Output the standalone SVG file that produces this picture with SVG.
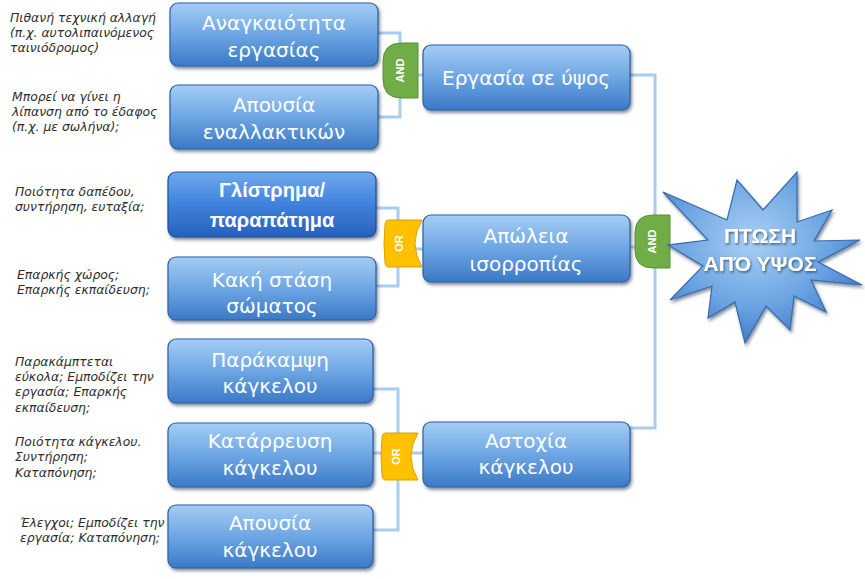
<svg xmlns="http://www.w3.org/2000/svg" width="865" height="579" viewBox="0 0 865 579">
<defs>
  <linearGradient id="boxG" x1="0" y1="0" x2="0" y2="1">
    <stop offset="0" stop-color="#a4cdf3"/>
    <stop offset="0.5" stop-color="#6ea6e3"/>
    <stop offset="1" stop-color="#3b79c6"/>
  </linearGradient>
  <linearGradient id="boxG2" x1="0" y1="0" x2="0" y2="1">
    <stop offset="0" stop-color="#6fa9ec"/>
    <stop offset="0.5" stop-color="#3f82dc"/>
    <stop offset="1" stop-color="#2660be"/>
  </linearGradient>
  <radialGradient id="starG" cx="0.45" cy="0.4" r="0.65">
    <stop offset="0" stop-color="#a9d0f4"/>
    <stop offset="0.6" stop-color="#6aa3e2"/>
    <stop offset="1" stop-color="#3a74c0"/>
  </radialGradient>
  <filter id="sh" x="-10%" y="-10%" width="125%" height="135%">
    <feDropShadow dx="1.5" dy="2.5" stdDeviation="1.8" flood-color="#1d3555" flood-opacity="0.55"/>
  </filter>
  <filter id="tsh" x="-10%" y="-20%" width="120%" height="150%">
    <feDropShadow dx="1" dy="1.5" stdDeviation="1" flood-color="#1a3050" flood-opacity="0.7"/>
  </filter>
</defs>
<style>
  .box { fill: url(#boxG); stroke: #2f5f9d; stroke-width: 1.2; filter: url(#sh); }
  .box2 { fill: url(#boxG2); stroke: #1f4f92; stroke-width: 1.2; filter: url(#sh); }
  .bt { font-family: "DejaVu Sans", "Liberation Sans", sans-serif; font-size: 20px; fill: #ffffff; text-anchor: middle; }
  .btb { font-family: "Liberation Sans", "DejaVu Sans", sans-serif; font-size: 20px; font-weight: bold; fill: #ffffff; text-anchor: middle; }
  .note { font-family: "DejaVu Sans", "Liberation Sans", sans-serif; font-size: 12.4px; font-style: italic; fill: #2e2e2e; }
  .and { fill: #70ad47; stroke: #5a8f36; stroke-width: 1; }
  .or { fill: #ffc000; stroke: #d9a200; stroke-width: 1; }
  .gt { font-family: "Liberation Sans", "DejaVu Sans", sans-serif; font-size: 11px; font-weight: bold; fill: #ffffff; text-anchor: middle; }
  .conn { fill: none; stroke: #a8cdf0; stroke-width: 3; }
  .star { fill: url(#starG); stroke: #3a6aa8; stroke-width: 1.2; filter: url(#sh); }
  .st { font-family: "Liberation Sans", "DejaVu Sans", sans-serif; font-size: 21px; font-weight: bold; fill: #ffffff; text-anchor: middle; filter: url(#tsh); }
</style>

<g id="connectors">
  <path class="conn" d="M378,33 H400 V117 H378"/>
  <path class="conn" d="M400,75 H423"/>
  <path class="conn" d="M630,75 H655 V428 H630"/>
  <path class="conn" d="M630,247 H655"/>
  <path class="conn" d="M376,208 H398 V286 H376"/>
  <path class="conn" d="M398,249 H423"/>
  <path class="conn" d="M373,389 H398 V530 H373"/>
  <path class="conn" d="M373,453 H423"/>
</g>

<g id="note1">
  <text class="note" x="10" y="22">Πιθανή τεχνική αλλαγή</text>
  <text class="note" x="10" y="37">(π.χ. αυτολιπαινόμενος</text>
  <text class="note" x="10" y="52">ταινιόδρομος)</text>
</g>
<g id="note2">
  <text class="note" x="12" y="101">Μπορεί να γίνει η</text>
  <text class="note" x="12" y="116">λίπανση από το έδαφος</text>
  <text class="note" x="12" y="131">(π.χ. με σωλήνα);</text>
</g>
<g id="note3">
  <text class="note" x="15" y="196">Ποιότητα δαπέδου,</text>
  <text class="note" x="15" y="211">συντήρηση, ευταξία;</text>
</g>
<g id="note4">
  <text class="note" x="17" y="279">Επαρκής χώρος;</text>
  <text class="note" x="17" y="294">Επαρκής εκπαίδευση;</text>
</g>
<g id="note5">
  <text class="note" x="15" y="366">Παρακάμπτεται</text>
  <text class="note" x="15" y="381">εύκολα; Εμποδίζει την</text>
  <text class="note" x="15" y="396">εργασία; Επαρκής</text>
  <text class="note" x="15" y="412">εκπαίδευση;</text>
</g>
<g id="note6">
  <text class="note" x="15" y="446">Ποιότητα κάγκελου.</text>
  <text class="note" x="15" y="461">Συντήρηση;</text>
  <text class="note" x="15" y="477">Καταπόνηση;</text>
</g>
<g id="note7">
  <text class="note" x="20" y="527">Έλεγχοι; Εμποδίζει την</text>
  <text class="note" x="20" y="542">εργασία; Καταπόνηση;</text>
</g>

<g id="box1">
  <rect class="box" x="170" y="3" width="208" height="63" rx="8"/>
  <text class="bt" x="274" y="30">Αναγκαιότητα</text>
  <text class="bt" x="274" y="57">εργασίας</text>
</g>
<g id="box2">
  <rect class="box" x="170" y="85" width="208" height="64" rx="8"/>
  <text class="bt" x="274" y="112">Απουσία</text>
  <text class="bt" x="274" y="139">εναλλακτικών</text>
</g>
<g id="box3">
  <rect class="box2" x="168" y="172" width="208" height="65" rx="8"/>
  <text class="btb" x="272" y="197">Γλίστρημα/</text>
  <text class="btb" x="272" y="227">παραπάτημα</text>
</g>
<g id="box4">
  <rect class="box" x="168" y="257" width="208" height="63" rx="8"/>
  <text class="bt" x="272" y="287">Κακή στάση</text>
  <text class="bt" x="272" y="313">σώματος</text>
</g>
<g id="box5">
  <rect class="box" x="168" y="339" width="205" height="64" rx="8"/>
  <text class="bt" x="270" y="367">Παράκαμψη</text>
  <text class="bt" x="270" y="393">κάγκελου</text>
</g>
<g id="box6">
  <rect class="box" x="168" y="423" width="205" height="64" rx="8"/>
  <text class="bt" x="270" y="448">Κατάρρευση</text>
  <text class="bt" x="270" y="475">κάγκελου</text>
</g>
<g id="box7">
  <rect class="box" x="168" y="505" width="205" height="63" rx="8"/>
  <text class="bt" x="270" y="530">Απουσία</text>
  <text class="bt" x="270" y="557">κάγκελου</text>
</g>

<g id="box-ergasia">
  <rect class="box" x="423" y="45" width="207" height="65" rx="8"/>
  <text class="bt" x="526" y="85">Εργασία σε ύψος</text>
</g>
<g id="box-apoleia">
  <rect class="box" x="423" y="215" width="207" height="67" rx="8"/>
  <text class="bt" x="526" y="243">Απώλεια</text>
  <text class="bt" x="526" y="271">ισορροπίας</text>
</g>
<g id="box-astoxia">
  <rect class="box" x="423" y="422" width="207" height="65" rx="8"/>
  <text class="bt" x="526" y="448">Αστοχία</text>
  <text class="bt" x="526" y="474">κάγκελου</text>
</g>

<g id="gate-and1">
  <path class="and" d="M418,43 H401 Q383,43 383,62 V79 Q383,98 401,98 H418 Z"/>
  <text class="gt" transform="translate(404,70.5) rotate(-90)" y="0">AND</text>
</g>
<g id="gate-or2">
  <path class="or" d="M389,220 H422 Q408,243.5 422,267 H389 Q385,267 385,262 Q383,243.5 385,225 Q385,220 389,220 Z"/>
  <text class="gt" transform="translate(403,243.5) rotate(-90)" y="0">OR</text>
</g>
<g id="gate-or3">
  <path class="or" d="M386,433 H418 Q404,456.5 418,480 H386 Q382,480 382,475 Q380,456.5 382,438 Q382,433 386,433 Z"/>
  <text class="gt" transform="translate(400,456.5) rotate(-90)" y="0">OR</text>
</g>
<g id="gate-and4">
  <path class="and" d="M670,215 H653 Q635,215 635,233 V250 Q635,268 653,268 H670 Z"/>
  <text class="gt" transform="translate(656,241.5) rotate(-90)" y="0">AND</text>
</g>

<g id="star">
  <polygon class="star" points="663,192 727,220 737,180 763,210 797,172 797,222 832,210 814,241 860,240 818,262 862,285 811,280 826,312 794,296 790,330 766,306 745,343 735,302 708,318 712,286 670,300 703,266 668,245 708,240"/>
  <text class="st" x="760" y="243">ΠΤΩΣΗ</text>
  <text class="st" x="760" y="271">ΑΠΌ ΥΨΟΣ</text>
</g>
</svg>
